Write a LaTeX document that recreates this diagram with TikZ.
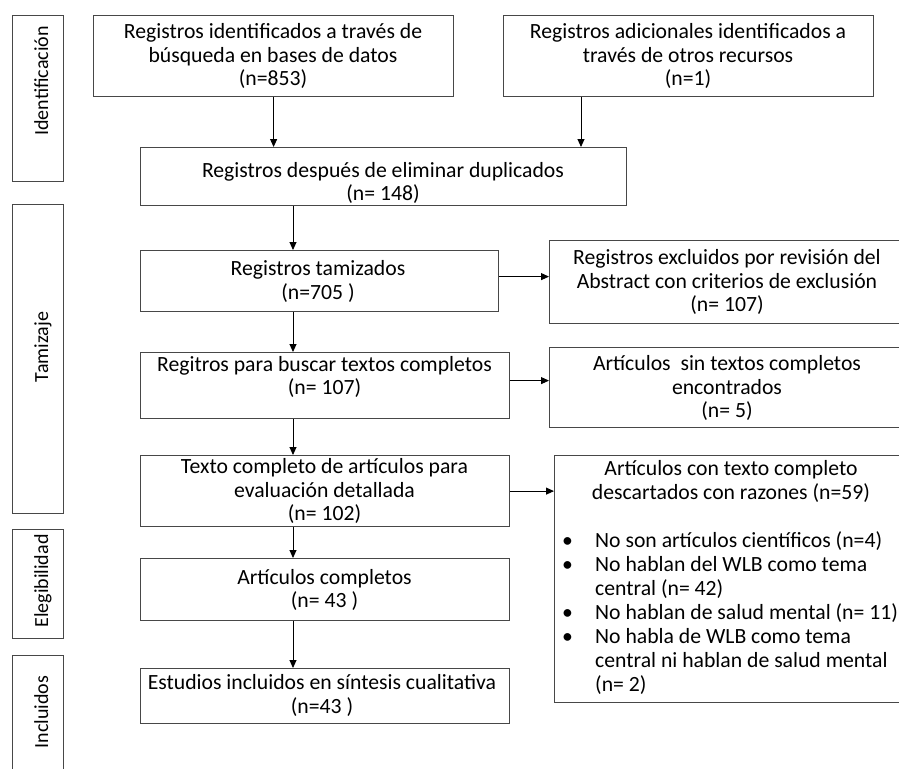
\documentclass[tikz,border=0pt]{standalone}
\usepackage{fontspec}
\setmainfont{Carlito}
\usetikzlibrary{arrows.meta}
\begin{document}
\begin{tikzpicture}[x=1pt,y=-1pt,
  box/.style={draw=black!72, line width=1.2pt, inner sep=0pt, anchor=north west},
  lbl/.style={align=center, inner sep=0pt, font=\fontsize{21.7}{23.8}\selectfont},
  side/.style={rotate=90, anchor=base, inner sep=0pt, font=\fontsize{20}{23}\selectfont},
  arr/.style={-{Triangle[length=8pt,width=7pt]}, line width=0.9pt, black}]
\useasboundingbox (0,0) rectangle (899,768);
\begin{scope}
\clip (0,0) rectangle (899,768);
% side boxes
\node[box, minimum width=51pt, minimum height=166pt] (s1) at (12,15) {};
\node[box, minimum width=51pt, minimum height=309pt] (s2) at (12,204) {};
\node[box, minimum width=51pt, minimum height=109pt] (s3) at (12,529) {};
\node[box, minimum width=51pt, minimum height=130pt] (s4) at (12,655) {};
\node[side] (s1t) at (48,81) {Identificación};
\node[side] (s2t) at (48,347) {Tamizaje};
\node[side] (s3t) at (48,581) {Elegibilidad};
\node[side] (s4t) at (48,712) {Incluidos};
% main boxes
\node[box, minimum width=360pt, minimum height=81pt] (b1) at (93,15) {};
\node[box, minimum width=370pt, minimum height=81pt] (b2) at (503,15) {};
\node[box, minimum width=486pt, minimum height=58pt] (b3) at (140,147) {};
\node[box, minimum width=358pt, minimum height=61pt] (b4) at (140,250) {};
\node[box, minimum width=369pt, minimum height=66pt] (b5) at (140,352) {};
\node[box, minimum width=369pt, minimum height=71pt] (b6) at (140,455) {};
\node[box, minimum width=369pt, minimum height=62pt] (b7) at (140,558) {};
\node[box, minimum width=369pt, minimum height=55pt] (b8) at (140,668) {};
% exclusion boxes
\node[box, minimum width=360pt, minimum height=83pt] (e1) at (549,240) {};
\node[box, minimum width=360pt, minimum height=80pt] (e2) at (549,347) {};
\node[box, minimum width=356pt, minimum height=247pt] (e3) at (554,455) {};
% texts
\node[lbl] (b1t) at (273,56) {Registros identificados a través de\\búsqueda en bases de datos\\(n=853)};
\node[lbl] (b2t) at (688,56) {Registros adicionales identificados a\\través de otros recursos\\(n=1)};
\node[lbl] (b3t) at (383,183) {Registros después de eliminar duplicados\\(n= 148)};
\node[lbl] (b4t) at (318,281.5) {Registros tamizados\\(n=705\ )};
\node[lbl] (b5t) at (324.5,377) {Regitros para buscar textos completos\\(n= 107)};
\node[lbl] (b6t) at (324.5,491) {Texto completo de artículos para\\evaluación detallada\\(n= 102)};
\node[lbl] (b7t) at (324.5,590) {Artículos completos\\(n= 43\ )};
\node[lbl] (b8t) at (322,695.5) {Estudios incluidos en síntesis cualitativa\\(n=43\ )};
\node[lbl] (e1t) at (727,282) {Registros excluidos por revisión del\\Abstract con criterios de exclusión\\(n= 107)};
\node[lbl] (e2t) at (727,388) {Artículos\ \ sin textos completos\\encontrados\\(n= 5)};
\node[lbl] (e3t) at (731,481.5) {Artículos con texto completo\\descartados con razones (n=59)};
\node[inner sep=0pt, anchor=west, font=\fontsize{21.7}{24}\selectfont] (e3l) at (562,615) {%
\renewcommand{\arraystretch}{1}%
\begin{tabular}{@{}p{33pt}@{}l@{}}
\textbullet & No son artículos científicos (n=4)\\
\textbullet & No hablan del WLB como tema\\
 & central (n= 42)\\
\textbullet & No hablan de salud mental (n= 11)\\
\textbullet & No habla de WLB como tema\\
 & central ni hablan de salud mental\\
 & (n= 2)
\end{tabular}};
% arrows
\coordinate (ax) at (293,0);
\coordinate (a2) at (581,0);
\draw[arr] (b1.south) -- (b1.south |- b3.north);
\draw[arr] (b2.south -| a2) -- (b3.north -| a2);
\draw[arr] (b3.south -| ax) -- (b4.north -| ax);
\draw[arr] (b4.south -| ax) -- (b5.north -| ax);
\draw[arr] (b5.south -| ax) -- (b6.north -| ax);
\draw[arr] (b6.south -| ax) -- (b7.north -| ax);
\draw[arr] (b7.south -| ax) -- (b8.north -| ax);
\draw[arr] ([yshift=4.5pt]b4.east) -- ([yshift=4.5pt]b4.east -| e1.west);
\draw[arr] ([yshift=5pt]b5.east) -- ([yshift=5pt]b5.east -| e2.west);
\draw[arr] (b6.east) -- (b6.east -| e3.west);
\end{scope}
\end{tikzpicture}
\end{document}
